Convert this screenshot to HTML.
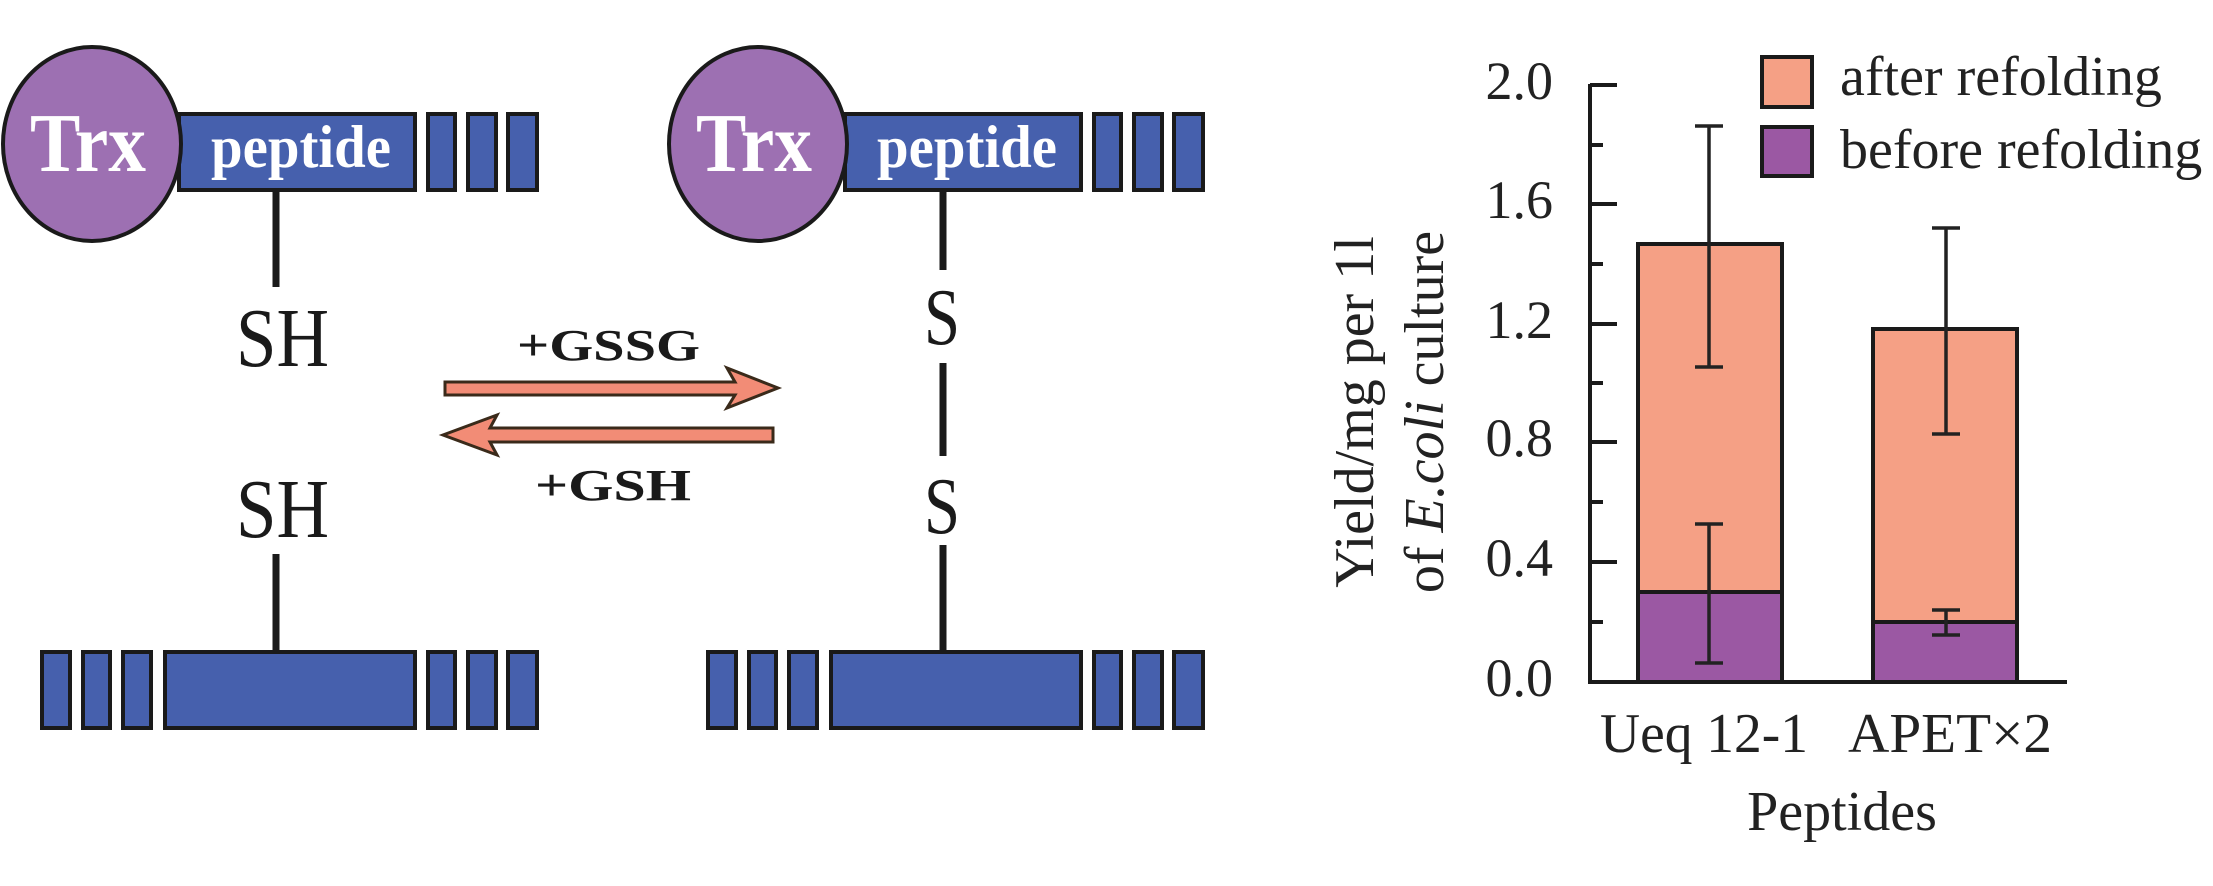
<!DOCTYPE html>
<html><head><meta charset="utf-8"><style>html,body{margin:0;padding:0;background:#fff}svg{display:block}svg text{font-family:"Liberation Serif","Times New Roman",serif}</style></head>
<body>
<svg width="2213" height="886" viewBox="0 0 2213 886" xmlns="http://www.w3.org/2000/svg" style="font-family:'Liberation Serif',serif">
<g id="left">
  <line x1="276" y1="188" x2="276" y2="287" stroke="#1a1a1a" stroke-width="7"/>
  <rect x="179" y="114" width="236" height="76" fill="#4660ad" stroke="#1a1a1a" stroke-width="4"/>
  <rect x="428" y="114" width="27" height="76" fill="#4660ad" stroke="#1a1a1a" stroke-width="4"/>
  <rect x="468" y="114" width="28" height="76" fill="#4660ad" stroke="#1a1a1a" stroke-width="4"/>
  <rect x="508" y="114" width="29" height="76" fill="#4660ad" stroke="#1a1a1a" stroke-width="4"/>
  <ellipse cx="92" cy="144" rx="89" ry="97" fill="#9d70b2" stroke="#1a1a1a" stroke-width="4"/>
  <text x="30" y="171" font-size="84" font-weight="bold" fill="#fff" textLength="116" lengthAdjust="spacingAndGlyphs">Trx</text>
  <text x="211" y="167" font-size="60" font-weight="bold" fill="#fff" textLength="180" lengthAdjust="spacingAndGlyphs">peptide</text>
  <text x="236" y="366" font-size="84" fill="#1a1a1a" textLength="93" lengthAdjust="spacingAndGlyphs">SH</text>
  <text x="236" y="537" font-size="84" fill="#1a1a1a" textLength="93" lengthAdjust="spacingAndGlyphs">SH</text>
  <line x1="276" y1="554" x2="276" y2="654" stroke="#1a1a1a" stroke-width="7"/>
  <rect x="42" y="652" width="28" height="76" fill="#4660ad" stroke="#1a1a1a" stroke-width="4"/>
  <rect x="83" y="652" width="27" height="76" fill="#4660ad" stroke="#1a1a1a" stroke-width="4"/>
  <rect x="123" y="652" width="28" height="76" fill="#4660ad" stroke="#1a1a1a" stroke-width="4"/>
  <rect x="165" y="652" width="250" height="76" fill="#4660ad" stroke="#1a1a1a" stroke-width="4"/>
  <rect x="428" y="652" width="27" height="76" fill="#4660ad" stroke="#1a1a1a" stroke-width="4"/>
  <rect x="468" y="652" width="28" height="76" fill="#4660ad" stroke="#1a1a1a" stroke-width="4"/>
  <rect x="508" y="652" width="29" height="76" fill="#4660ad" stroke="#1a1a1a" stroke-width="4"/>
</g>
<g id="right">
  <line x1="943" y1="188" x2="943" y2="270" stroke="#1a1a1a" stroke-width="7"/>
  <line x1="943" y1="363" x2="943" y2="456" stroke="#1a1a1a" stroke-width="7"/>
  <line x1="943" y1="545" x2="943" y2="654" stroke="#1a1a1a" stroke-width="7"/>
  <rect x="845" y="114" width="236" height="76" fill="#4660ad" stroke="#1a1a1a" stroke-width="4"/>
  <rect x="1094" y="114" width="27" height="76" fill="#4660ad" stroke="#1a1a1a" stroke-width="4"/>
  <rect x="1134" y="114" width="28" height="76" fill="#4660ad" stroke="#1a1a1a" stroke-width="4"/>
  <rect x="1174" y="114" width="29" height="76" fill="#4660ad" stroke="#1a1a1a" stroke-width="4"/>
  <ellipse cx="758" cy="144" rx="89" ry="97" fill="#9d70b2" stroke="#1a1a1a" stroke-width="4"/>
  <text x="696" y="171" font-size="84" font-weight="bold" fill="#fff" textLength="116" lengthAdjust="spacingAndGlyphs">Trx</text>
  <text x="877" y="167" font-size="60" font-weight="bold" fill="#fff" textLength="180" lengthAdjust="spacingAndGlyphs">peptide</text>
  <text x="924" y="344" font-size="80" fill="#1a1a1a" textLength="36" lengthAdjust="spacingAndGlyphs">S</text>
  <text x="924" y="533" font-size="80" fill="#1a1a1a" textLength="36" lengthAdjust="spacingAndGlyphs">S</text>
  <rect x="708" y="652" width="28" height="76" fill="#4660ad" stroke="#1a1a1a" stroke-width="4"/>
  <rect x="749" y="652" width="27" height="76" fill="#4660ad" stroke="#1a1a1a" stroke-width="4"/>
  <rect x="789" y="652" width="28" height="76" fill="#4660ad" stroke="#1a1a1a" stroke-width="4"/>
  <rect x="831" y="652" width="250" height="76" fill="#4660ad" stroke="#1a1a1a" stroke-width="4"/>
  <rect x="1094" y="652" width="27" height="76" fill="#4660ad" stroke="#1a1a1a" stroke-width="4"/>
  <rect x="1134" y="652" width="28" height="76" fill="#4660ad" stroke="#1a1a1a" stroke-width="4"/>
  <rect x="1174" y="652" width="29" height="76" fill="#4660ad" stroke="#1a1a1a" stroke-width="4"/>
</g>
<g id="arrows">
  <polygon points="445,382 735,382 727,368 778,388 727,408 735,395 445,395" fill="#f28c76" stroke="#3a2a1a" stroke-width="3"/>
  <polygon points="773,428 490,428 497,415 443,435 497,455 490,442 773,442" fill="#f28c76" stroke="#3a2a1a" stroke-width="3"/>
  <text x="517" y="360" font-size="44" font-weight="bold" fill="#1a1a1a" textLength="183" lengthAdjust="spacingAndGlyphs">+GSSG</text>
  <text x="535" y="500" font-size="44" font-weight="bold" fill="#1a1a1a" textLength="156" lengthAdjust="spacingAndGlyphs">+GSH</text>
</g>
<g id="chart" fill="#222">
  <rect x="1638" y="244" width="144" height="348" fill="#f5a085" stroke="#1a1a1a" stroke-width="4"/>
  <rect x="1638" y="592" width="144" height="90" fill="#9b58a3" stroke="#1a1a1a" stroke-width="4"/>
  <rect x="1873" y="329" width="144" height="293" fill="#f5a085" stroke="#1a1a1a" stroke-width="4"/>
  <rect x="1873" y="622" width="144" height="60" fill="#9b58a3" stroke="#1a1a1a" stroke-width="4"/>
  <g stroke="#222" stroke-width="3.5" fill="none">
    <path d="M1709 126V367M1695 126H1723M1695 367H1723"/>
    <path d="M1709 524V663M1695 524H1723M1695 663H1723"/>
    <path d="M1946 228V434M1932 228H1960M1932 434H1960"/>
    <path d="M1946 610V635M1932 610H1960M1932 635H1960"/>
  </g>
  <path d="M1590 84V682H2067" stroke="#1a1a1a" stroke-width="4" fill="none"/>
  <g stroke="#1a1a1a" stroke-width="4">
    <line x1="1590" y1="85" x2="1617" y2="85"/><line x1="1590" y1="145" x2="1603" y2="145"/>
    <line x1="1590" y1="204" x2="1617" y2="204"/><line x1="1590" y1="264" x2="1603" y2="264"/>
    <line x1="1590" y1="324" x2="1617" y2="324"/><line x1="1590" y1="383" x2="1603" y2="383"/>
    <line x1="1590" y1="442" x2="1617" y2="442"/><line x1="1590" y1="502" x2="1603" y2="502"/>
    <line x1="1590" y1="562" x2="1617" y2="562"/><line x1="1590" y1="622" x2="1603" y2="622"/>
  </g>
  <g font-size="54" text-anchor="end">
    <text x="1553" y="99">2.0</text><text x="1553" y="218">1.6</text><text x="1553" y="338">1.2</text>
    <text x="1553" y="456">0.8</text><text x="1553" y="576">0.4</text><text x="1553" y="696">0.0</text>
  </g>
  <rect x="1762" y="57" width="50" height="50" fill="#f5a085" stroke="#1a1a1a" stroke-width="4"/>
  <rect x="1762" y="127" width="50" height="49" fill="#9b58a3" stroke="#1a1a1a" stroke-width="4"/>
  <text x="1840" y="95" font-size="56">after refolding</text>
  <text x="1840" y="168" font-size="56">before refolding</text>
  <text x="1600" y="752" font-size="56" textLength="208" lengthAdjust="spacingAndGlyphs">Ueq 12-1</text>
  <text x="1848" y="752" font-size="56" textLength="204" lengthAdjust="spacingAndGlyphs">APET×2</text>
  <text x="1842" y="830" font-size="56" text-anchor="middle">Peptides</text>
  <text transform="translate(1373,412) rotate(-90)" font-size="56" text-anchor="middle">Yield/mg per 1l</text>
  <text transform="translate(1443,412) rotate(-90)" font-size="56" text-anchor="middle">of <tspan font-style="italic">E.coli</tspan> culture</text>
</g>
</svg>
</body></html>
